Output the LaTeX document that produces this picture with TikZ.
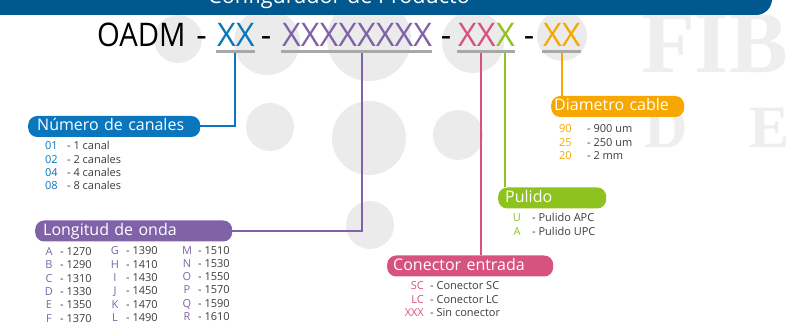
\documentclass[tikz,border=0pt]{standalone}
\usepackage{fontspec}
\setmainfont{Open Sans}
\newfontfamily\markfont{Liberation Serif}
\usetikzlibrary{positioning}
\definecolor{bannerblue}{HTML}{00588E}
\definecolor{canblue}{HTML}{0A76BE}
\definecolor{ondapurple}{HTML}{8062A9}
\definecolor{conpink}{HTML}{D6527F}
\definecolor{pulgreen}{HTML}{8DC21F}
\definecolor{diaorange}{HTML}{F6A800}
\definecolor{dotgray}{HTML}{EBEBEB}
\definecolor{markgray}{HTML}{EEEEEE}
\definecolor{undergray}{HTML}{A8A8A8}
\definecolor{textgray}{HTML}{3C3C3C}

\begin{document}
\begin{tikzpicture}[x=1pt,y=-1pt,
  tagbox/.style={rounded corners=9pt,text=white,anchor=west,align=left,inner ysep=0pt,
    minimum height=21pt,text height=12pt,text depth=3.6pt,font=\fontsize{16}{18}\selectfont},
  titletxt/.style={anchor=base west,inner sep=0pt,font=\fontsize{32.5}{38}\selectfont},
  codetxt/.style={anchor=base west,inner sep=0pt,font=\fontsize{11}{13}\selectfont},
  desctxt/.style={codetxt,text=textgray},
  link/.style={line width=2pt},
  under/.style={line width=3pt,draw=undergray}]
  \useasboundingbox (0,0) rectangle (788,328);
  \clip (0,0) rectangle (788,328);
  \foreach \cx/\cy/\r in {178/39/24,267/42/33,369/39/42,473/42/31,562/36/25,
    270/127/24,369/138/37,458/135/25,370/225/24}
    \fill[dotgray] (\cx,\cy) circle (\r pt);
  \node[anchor=base west,inner sep=0pt,text=markgray,font=\markfont\bfseries\fontsize{88}{90}\selectfont] (wmf) at (641,73) {FIB};
  \node[anchor=base west,inner sep=0pt,text=markgray,font=\markfont\bfseries\fontsize{60}{62}\selectfont] (wmd) at (644,148) {D};
  \node[anchor=base west,inner sep=0pt,text=markgray,font=\markfont\bfseries\fontsize{60}{62}\selectfont] (wme) at (749,148) {E};
  \fill[bannerblue] (-20,-30) [rounded corners=16pt] -- (772,-30) -- (772,15) [sharp corners] -- (-20,15) -- cycle;
  \node[anchor=base,inner sep=0pt,text=white,font=\fontsize{21.6}{24}\selectfont] (banner) at (339,3.5) {Configurador de Producto};

  \node[titletxt] (oadm) at (97,47) {\scalebox{0.9}[1]{OADM}};
  \foreach \x [count=\i] in {201.5,266,446,529}
    \node[titletxt,anchor=base] (dash\i) at (\x,47) {-};
  \node[titletxt,text=canblue] (xxcan) at (217,47) {XX};
  \node[titletxt,text=ondapurple] (xxonda) at (282,47) {XXXXXXXX};
  \node[titletxt,text=conpink] (xxcon) at (458,47) {XX};
  \node[titletxt,text=pulgreen] (xxpul) at (xxcon.base east) {X};
  \node[titletxt,text=diaorange] (xxdia) at (543,47) {XX};

  \node[tagbox,fill=canblue,text width=154pt,inner xsep=9pt] (canales) at (28,126.5) {Número de canales};
  \node[tagbox,fill=ondapurple,text width=181pt,inner xsep=8pt] (onda) at (35,231) {Longitud de onda};
  \node[tagbox,fill=conpink,text width=154pt,inner xsep=6pt] (conector) at (387,266) {Conector entrada};
  \node[tagbox,fill=pulgreen,text width=94pt,inner xsep=7pt] (pulido) at (498,198) {Pulido};
  \node[tagbox,fill=diaorange,text width=127pt,inner xsep=3pt] (diametro) at (551,106.5) {Diametro cable};

  \coordinate (tcan) at (235,53);
  \coordinate (tonda) at (362,53);
  \coordinate (tcon) at (481,53);
  \coordinate (tpul) at (505,53);
  \coordinate (tdia) at (562,53);
  \draw[link,canblue] (tcan) |- (canales.east);
  \draw[link,ondapurple] (tonda) |- (onda.east);
  \draw[link,conpink] (tcon) -- (tcon |- conector.north);
  \draw[link,pulgreen] (tpul) -- (tpul |- pulido.north);
  \draw[link,diaorange] (tdia) -- (tdia |- diametro.north);
  \draw[under] ([xshift=-1.5pt,yshift=-4.5pt]xxcan.base west) -- ([yshift=-4.5pt]xxcan.base east);
  \draw[under] ([xshift=-1.5pt,yshift=-4.5pt]xxonda.base west) -- ([yshift=-4.5pt]xxonda.base east);
  \draw[under] ([xshift=-1.5pt,yshift=-4.5pt]xxcon.base west) -- ([yshift=-4.5pt]xxpul.base east);
  \draw[under] ([xshift=-1.5pt,yshift=-4.5pt]xxdia.base west) -- ([yshift=-4.5pt]xxdia.base east);

  \foreach \c/\t [count=\i] in {01/1 canal,02/2 canales,04/4 canales,08/8 canales}{
    \node[codetxt,text=canblue] (nc\i) at (45,{136.7+13.3*\i}) {\c};
    \node[desctxt] (nt\i) at (67,{136.7+13.3*\i}) {- \t};
  }
  \foreach \l [count=\i from 0] in {A,B,C,D,E,F,G,H,I,J,K,L,M,N,O,P,Q,R}{
    \pgfmathtruncatemacro\col{\i/6}
    \pgfmathtruncatemacro\row{mod(\i,6)}
    \pgfmathtruncatemacro\val{1270+20*\i}
    \pgfmathsetmacro\lx{{49,115,187}[\col]}
    \pgfmathsetmacro\ly{255.7+13.3*\row-0.8*\col}
    \node[codetxt,anchor=base,text=ondapurple] (ol\i) at (\lx,\ly) {\l};
    \node[desctxt] (ov\i) at (\lx+11,\ly) {- \val};
  }
  \foreach \c/\t [count=\i] in {U/Pulido APC,A/Pulido UPC}{
    \node[codetxt,anchor=base,text=pulgreen] (pc\i) at (517,{208+14*\i}) {\c};
    \node[desctxt] (pt\i) at (532,{208+14*\i}) {- \t};
  }
  \foreach \c/\t [count=\i] in {SC/Conector SC,LC/Conector LC,XXX/Sin conector}{
    \node[codetxt,anchor=base east,text=conpink] (cc\i) at (424,{276.5+13.5*\i}) {\c};
    \node[desctxt] (ct\i) at (430,{276.5+13.5*\i}) {- \t};
  }
  \foreach \c/\t [count=\i] in {90/900 um,25/250 um,20/2 mm}{
    \node[codetxt,text=diaorange] (dc\i) at (559,{119.5+13.5*\i}) {\c};
    \node[desctxt] (dt\i) at (587,{119.5+13.5*\i}) {- \t};
  }
\end{tikzpicture}
\end{document}
